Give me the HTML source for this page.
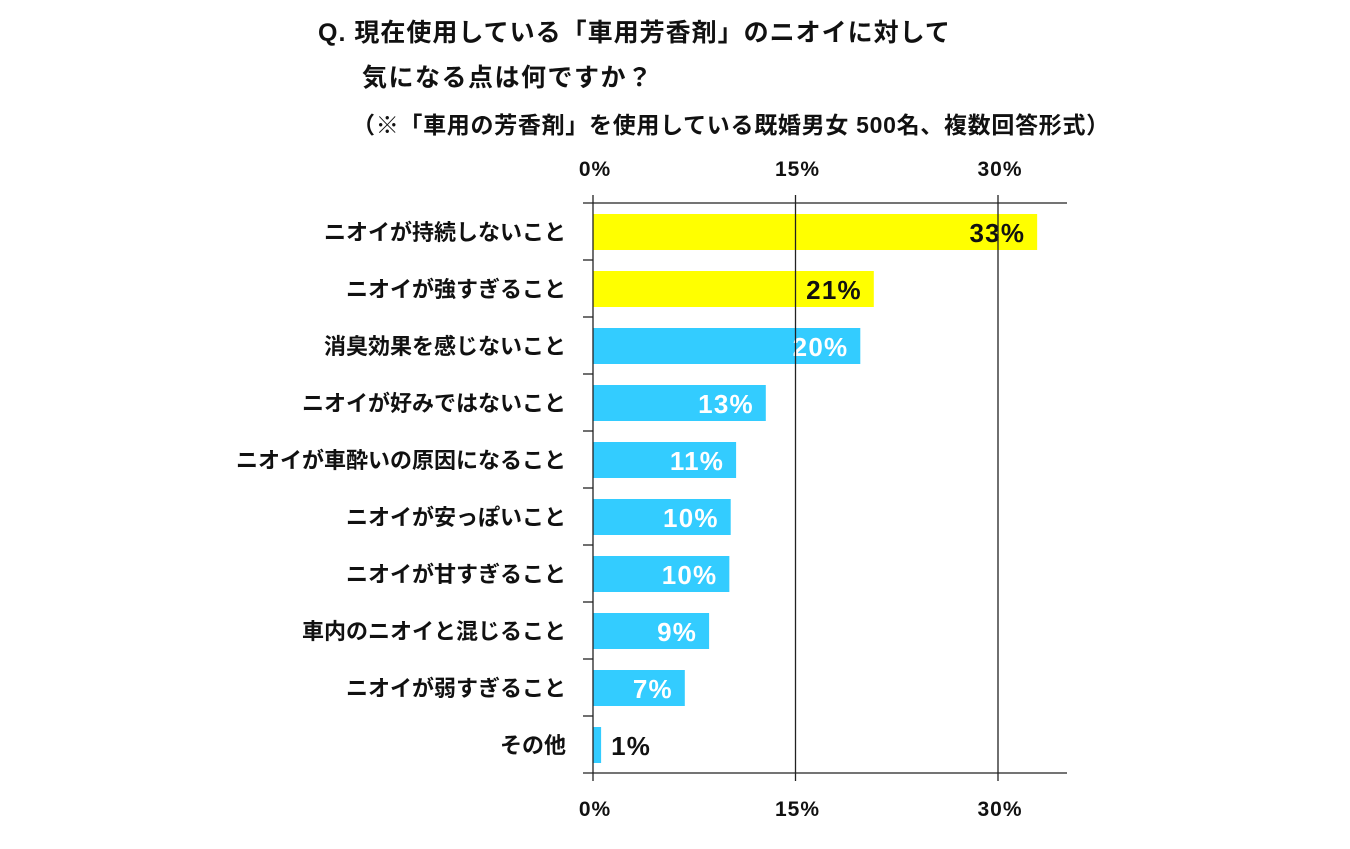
<!DOCTYPE html>
<html><head><meta charset="utf-8"><style>
body{margin:0;background:#fff;width:1350px;height:844px;overflow:hidden;font-family:"Liberation Sans","Noto Sans CJK JP",sans-serif;}
svg text{font-family:"Liberation Sans","Noto Sans CJK JP",sans-serif;font-weight:bold;}
</style></head><body>
<svg id="chart" width="1350" height="844" xmlns="http://www.w3.org/2000/svg">
<text x="318" y="41" font-size="25" letter-spacing="1" fill="#111">Q.  現在使用している「車用芳香剤」のニオイに対して</text>
<text x="362" y="86" font-size="25" letter-spacing="1.5" fill="#111">気になる点は何ですか？</text>
<text x="352" y="133" font-size="23" letter-spacing="0.7" fill="#111">（※「車用の芳香剤」を使用している既婚男女 500名、複数回答形式）</text>
<g id="plot"></g>
</svg>
<script>
const categories=["ニオイが持続しないこと","ニオイが強すぎること","消臭効果を感じないこと","ニオイが好みではないこと","ニオイが車酔いの原因になること","ニオイが安っぽいこと","ニオイが甘すぎること","車内のニオイと混じること","ニオイが弱すぎること","その他"];
const values=[32.9,20.8,19.8,12.8,10.6,10.2,10.1,8.6,6.8,0.6];
const valueLabels=["33%","21%","20%","13%","11%","10%","10%","9%","7%","1%"];
const tickValues=[0,15,30];
const tickLabels=["0%","15%","30%"];
const x0=593,pxPer=(998-593)/30,plotTop=203,rowH=57,barH=36;
const xs=v=>x0+v*pxPer;
const ys=i=>plotTop+i*rowH;
const ns="http://www.w3.org/2000/svg";
const g=document.getElementById('plot');
function mk(t,a){const e=document.createElementNS(ns,t);for(const k in a)e.setAttribute(k,a[k]);g.appendChild(e);return e;}
const plotBottom=ys(categories.length);
values.forEach((v,i)=>{
 const r=mk('rect',{x:x0,y:ys(i)+11,width:xs(v)-x0,height:barH,fill:i<2?'#ffff00':'#33ccff'});
 
 
 const lbl=mk('text',{x:v<3?xs(v)+10:xs(v)-12,y:ys(i)+39,'font-size':26,'letter-spacing':1.2,fill:i<2||v<3?'#111':'#fff','text-anchor':v<3?'start':'end'});
 lbl.textContent=valueLabels[i];
 
 
 const c=mk('text',{x:566,y:ys(i)+37,'font-size':22,fill:'#111','text-anchor':'end'});
 c.textContent=categories[i];
 
 
});
for(let i=1;i<categories.length;i++){
 const t=mk('line',{x1:583,x2:593,y1:ys(i),y2:ys(i),stroke:'#222','stroke-width':1.3});
 
 
}
tickValues.forEach((v,i)=>{
 const l=mk('line',{x1:xs(v),x2:xs(v),y1:195,y2:plotBottom+8,stroke:'#222','stroke-width':1.3});
 
 
 const t1=mk('text',{x:xs(v)+2,y:176,'font-size':21,'letter-spacing':1,fill:'#111','text-anchor':'middle'});
 t1.textContent=tickLabels[i];
 
 
 const t2=mk('text',{x:xs(v)+2,y:816,'font-size':21,'letter-spacing':1,fill:'#111','text-anchor':'middle'});
 t2.textContent=tickLabels[i];
 
 
});
[plotTop,plotBottom].forEach(y=>{
 const l=mk('line',{x1:583,x2:1067,y1:y,y2:y,stroke:'#222','stroke-width':1.3});
 
 
});
</script>
</body></html>
